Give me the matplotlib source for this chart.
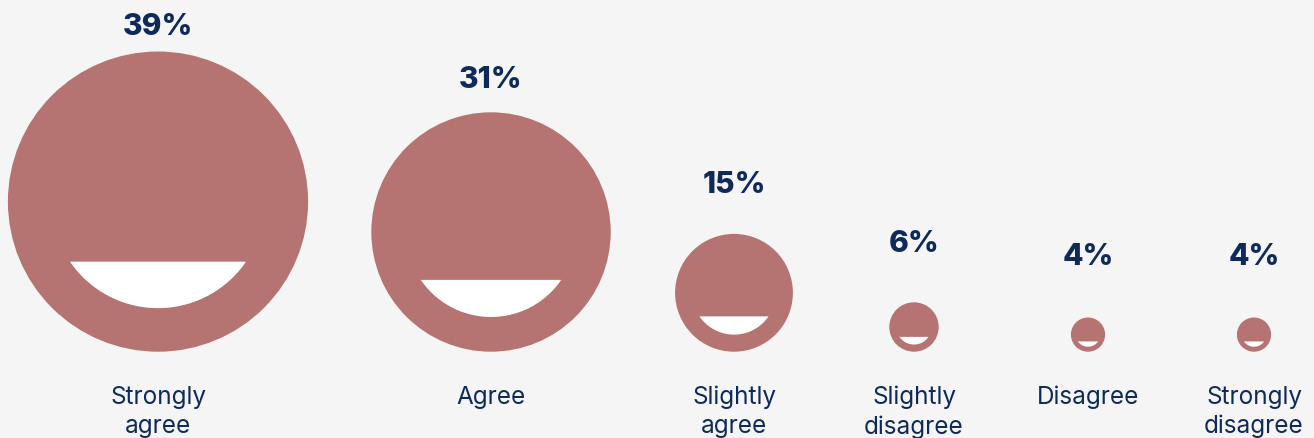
import numpy as np
import matplotlib.pyplot as plt
from matplotlib.patches import Circle, Polygon

# ── data ─────────────────────────────────────────────
categories = ["Strongly\nagree", "Agree", "Slightly\nagree",
              "Slightly\ndisagree", "Disagree", "Strongly\ndisagree"]
values = [39, 31, 15, 6, 4, 4]

# ── layout (pixel units, y grows downward) ───────────
W, H = 1314, 439
col_x = [158, 491, 734, 914, 1088, 1254]   # column centres
baseline = 352.7                           # circle bottoms sit here
px_per_pct = 3.8
label_top = 386

FACE = "#b57371"
NAVY = "#0d2a5a"
BG = "#f5f5f5"

plt.rcParams["font.family"] = ["Inter", "DejaVu Sans"]

fig = plt.figure(figsize=(W / 100, H / 100), dpi=100, facecolor=BG)
ax = fig.add_axes([0, 0, 1, 1])
ax.set_facecolor(BG)
ax.set_xlim(0, W)
ax.set_ylim(H, 0)
ax.axis("off")


def smile(cx, cy, r):
    """white mouth: disc of radius 0.71r cut by a chord 0.4r below centre"""
    R = 0.71 * r
    a = np.arccos(0.40 / 0.71)
    phi = np.linspace(-a, a, 60)
    pts = np.column_stack([cx + R * np.sin(phi), cy + R * np.cos(phi)])
    return Polygon(pts, closed=True, facecolor="white", edgecolor="none")


for x, v, cat in zip(col_x, values, categories):
    r = (v + 0.5) * px_per_pct
    cy = baseline - r
    ax.add_patch(Circle((x, cy), r, facecolor=FACE, edgecolor="none"))
    ax.add_patch(smile(x, cy, r))

    gap = 66 - 0.27 * r
    ax.text(x, cy - r - gap, f"{v}%", ha="center", va="center",
            fontsize=21.5, fontweight="heavy", color=NAVY)
    ax.text(x, label_top, cat, ha="center", va="top", fontsize=17.5,
            color=NAVY, linespacing=1.32)

fig.savefig("out.png", dpi=100, facecolor=BG)
